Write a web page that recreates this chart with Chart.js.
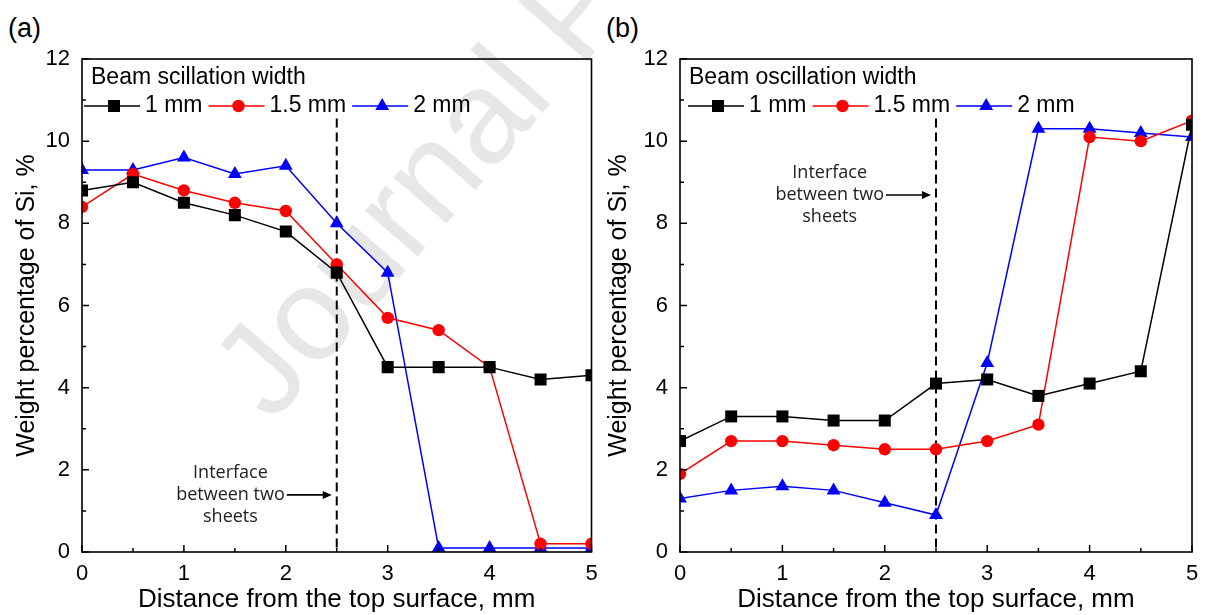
<!DOCTYPE html>
<html>
<head>
<meta charset="utf-8">
<script src="https://cdn.jsdelivr.net/npm/chart.js@4/dist/chart.umd.min.js"></script>
<style>
html,body{margin:0;padding:0;background:#fff;}
#wrap{position:relative;width:1205px;height:615px;overflow:hidden;background:#fff;}
#bg{position:absolute;left:0;top:0;}
canvas{position:absolute;top:0;}
#ca{left:0;}
#cb{left:600px;}
</style>
</head>
<body>
<div id="wrap">
<svg id="bg" width="1205" height="615" xmlns="http://www.w3.org/2000/svg">
  <text x="272" y="424" transform="rotate(-49 272 424)" font-family="Liberation Sans, Arial, sans-serif" font-size="132" fill="#e7e7e7">Journal Pre-proof</text>
  <text x="8" y="37" font-family="Liberation Sans, Arial, sans-serif" font-size="27" fill="#000">(a)</text>
  <text x="606" y="37" font-family="Liberation Sans, Arial, sans-serif" font-size="27" fill="#000">(b)</text>
</svg>
<canvas id="ca" width="600" height="615"></canvas>
<canvas id="cb" width="605" height="615"></canvas>
</div>
<script>
// ---------- data ----------
const distance = [0, 0.5, 1, 1.5, 2, 2.5, 3, 3.5, 4, 4.5, 5];
const seriesLabels = ['1 mm', '1.5 mm', '2 mm'];
const xTickValues = [0, 1, 2, 3, 4, 5];
const xMinorValues = [0.5, 1.5, 2.5, 3.5, 4.5];
const yTickValues = [0, 2, 4, 6, 8, 10, 12];
const yMinorValues = [1, 3, 5, 7, 9, 11];

const a1mm  = [8.8, 9.0, 8.5, 8.2, 7.8, 6.8, 4.5, 4.5, 4.5, 4.2, 4.3];
const a15mm = [8.4, 9.2, 8.8, 8.5, 8.3, 7.0, 5.7, 5.4, 4.5, 0.2, 0.2];
const a2mm  = [9.3, 9.3, 9.6, 9.2, 9.4, 8.0, 6.8, 0.1, 0.1, 0.1, 0.1];

const b1mm  = [2.7, 3.3, 3.3, 3.2, 3.2, 4.1, 4.2, 3.8, 4.1, 4.4, 10.4];
const b15mm = [1.9, 2.7, 2.7, 2.6, 2.5, 2.5, 2.7, 3.1, 10.1, 10.0, 10.5];
const b2mm  = [1.3, 1.5, 1.6, 1.5, 1.2, 0.9, 4.6, 10.3, 10.3, 10.2, 10.1];

const legendTitleA = 'Beam scillation width';
const legendTitleB = 'Beam oscillation width';
const xTitle = 'Distance from the top surface, mm';
const yTitle = 'Weight percentage of Si, %';
const interfaceLines = ['Interface', 'between two', 'sheets'];
const interfaceX = 2.5;
const interfaceYA = 1.39;
const interfaceYB = 8.69;
const dashTop = 10.55;

// ---------- styles ----------
const FONT = '"Liberation Sans", Arial, sans-serif';
const colors = ['#000000', '#ff0000', '#0000ff'];
const styles = ['rect', 'circle', 'triangle'];
const radii = [8.5, 6.2, 8];

Chart.defaults.font.family = FONT;
Chart.defaults.color = '#000';

function mkDatasets(arrs) {
  return arrs.map((arr, i) => ({
    label: seriesLabels[i],
    data: distance.map((d, k) => ({x: d, y: arr[k]})),
    borderColor: colors[i],
    backgroundColor: colors[i],
    pointBackgroundColor: colors[i],
    pointBorderColor: colors[i],
    pointBorderWidth: 0,
    pointStyle: styles[i],
    pointRadius: radii[i],
    pointHoverRadius: radii[i],
    borderWidth: 1.5,
    tension: 0,
    fill: false
  }));
}

const decor = {
  id: 'decor',
  beforeDatasetsDraw(chart, args, o) {
    const {ctx, chartArea: ca, scales: {x, y}} = chart;
    ctx.save();
    ctx.strokeStyle = '#000';
    ctx.lineWidth = 2;
    ctx.setLineDash([9, 5]);
    const xp = x.getPixelForValue(interfaceX);
    ctx.beginPath();
    ctx.moveTo(xp, y.getPixelForValue(dashTop));
    ctx.lineTo(xp, ca.bottom);
    ctx.stroke();
    ctx.restore();
  },
  afterDraw(chart, args, o) {
    const {ctx, chartArea: ca, scales: {x, y}} = chart;
    ctx.save();
    // frame
    ctx.strokeStyle = '#000';
    ctx.lineWidth = 1.6;
    ctx.strokeRect(ca.left, ca.top, ca.right - ca.left, ca.bottom - ca.top);
    // inward ticks
    ctx.lineWidth = 1.5;
    ctx.beginPath();
    xTickValues.forEach(v => { const p = x.getPixelForValue(v); ctx.moveTo(p, ca.bottom); ctx.lineTo(p, ca.bottom - 7); });
    xMinorValues.forEach(v => { const p = x.getPixelForValue(v); ctx.moveTo(p, ca.bottom); ctx.lineTo(p, ca.bottom - 4); });
    yTickValues.forEach(v => { const p = y.getPixelForValue(v); ctx.moveTo(ca.left, p); ctx.lineTo(ca.left + 7, p); });
    yMinorValues.forEach(v => { const p = y.getPixelForValue(v); ctx.moveTo(ca.left, p); ctx.lineTo(ca.left + 4, p); });
    ctx.stroke();

    // legend
    ctx.fillStyle = '#000';
    ctx.font = '23px ' + FONT;
    ctx.textBaseline = 'middle';
    ctx.textAlign = 'left';
    ctx.fillText(o.legendTitle, o.titleX, o.titleY);
    let lx = o.rowX;
    chart.data.datasets.forEach((ds, i) => {
      const L = 56;
      ctx.strokeStyle = ds.borderColor;
      ctx.lineWidth = 1.5;
      ctx.beginPath();
      ctx.moveTo(lx, o.rowY); ctx.lineTo(lx + L, o.rowY);
      ctx.stroke();
      ctx.fillStyle = ds.borderColor;
      Chart.helpers.drawPoint(ctx, {pointStyle: ds.pointStyle, radius: ds.pointRadius, borderWidth: 0}, lx + L / 2 + 2, o.rowY);
      ctx.fillStyle = '#000';
      ctx.fillText(ds.label, lx + L + 5, o.rowY);
      lx += L + 5 + ctx.measureText(ds.label).width + 6;
    });

    // interface annotation
    const tip = x.getPixelForValue(interfaceX) - 5;
    const ay = y.getPixelForValue(o.annY);
    const aL = 45;
    ctx.strokeStyle = '#000';
    ctx.fillStyle = '#000';
    ctx.lineWidth = 1.6;
    ctx.beginPath();
    ctx.moveTo(tip - aL, ay); ctx.lineTo(tip - 7, ay);
    ctx.stroke();
    ctx.beginPath();
    ctx.moveTo(tip, ay); ctx.lineTo(tip - 9, ay - 4); ctx.lineTo(tip - 9, ay + 4); ctx.closePath();
    ctx.fill();
    ctx.font = '18px "Open Sans", "DejaVu Sans", sans-serif';
    ctx.fillStyle = '#222';
    const w = ctx.measureText(interfaceLines[1]).width;
    const right = tip - aL - 2;
    const cx = right - w / 2;
    ctx.textAlign = 'center';
    ctx.fillText(interfaceLines[0], cx, ay - 22);
    ctx.fillText(interfaceLines[1], cx, ay);
    ctx.fillText(interfaceLines[2], cx, ay + 22);
    ctx.restore();
  }
};

function makeChart(id, arrs, cfg) {
  return new Chart(document.getElementById(id), {
    type: 'line',
    data: {datasets: mkDatasets(arrs)},
    plugins: [decor],
    options: {
      responsive: false,
      animation: false,
      devicePixelRatio: 1,
      layout: {padding: {left: 0, right: cfg.padRight, top: 59, bottom: 0}},
      plugins: {
        legend: {display: false},
        tooltip: {enabled: false},
        decor: {
          legendTitle: cfg.legendTitle,
          titleX: cfg.titleX, titleY: 78,
          rowX: cfg.rowX, rowY: 106,
          annY: cfg.annY
        }
      },
      scales: {
        x: {
          type: 'linear', min: 0, max: 5,
          grid: {display: false, drawTicks: false},
          border: {display: false},
          ticks: {stepSize: 1, padding: 9, font: {size: 22}, color: '#000',
                  callback: v => (Number.isInteger(v) ? String(v) : '')},
          title: {display: true, text: xTitle, font: {size: 26}, color: '#000', padding: {top: 2, bottom: 0}},
          afterFit: s => { s.height = 63; s.paddingLeft = 0; s.paddingRight = 0; }
        },
        y: {
          min: 0, max: 12,
          grid: {display: false, drawTicks: false},
          border: {display: false},
          ticks: {stepSize: 2, padding: 12, font: {size: 22}, color: '#000'},
          title: {display: true, text: yTitle, font: {size: 25}, color: '#000', padding: {top: cfg.yTitlePad, bottom: 2}},
          afterFit: s => { s.width = cfg.yWidth; s.paddingTop = 0; s.paddingBottom = 0; }
        }
      }
    }
  });
}

makeChart('ca', [a1mm, a15mm, a2mm], {
  padRight: 7, yWidth: 82, yTitlePad: 12,
  legendTitle: legendTitleA, titleX: 91, rowX: 84, annY: interfaceYA
});
makeChart('cb', [b1mm, b15mm, b2mm], {
  padRight: 13, yWidth: 80, yTitlePad: 4,
  legendTitle: legendTitleB, titleX: 89, rowX: 88, annY: interfaceYB
});
</script>
</body>
</html>
